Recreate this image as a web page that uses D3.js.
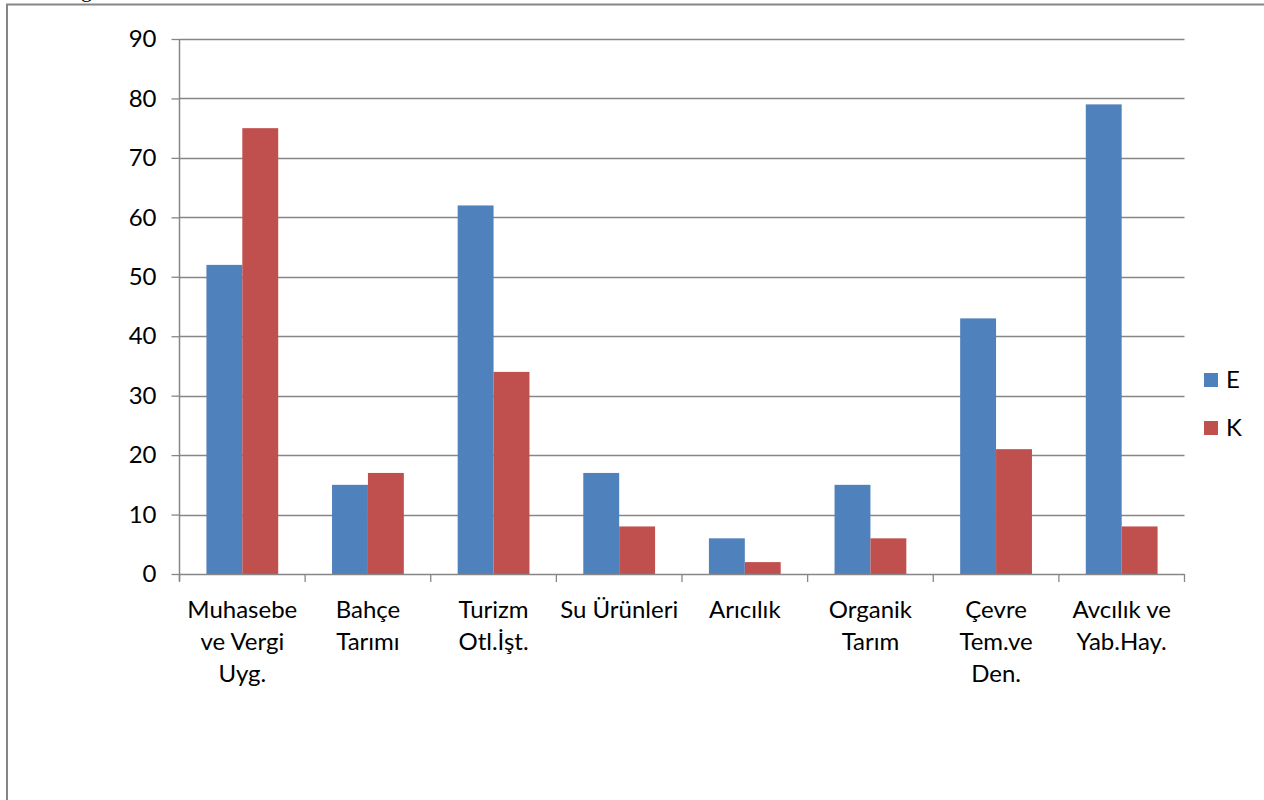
<!DOCTYPE html>
<html><head><meta charset="utf-8">
<script src="https://cdn.jsdelivr.net/npm/d3@7"></script>
<style>
html,body{margin:0;padding:0;background:#fff;}
svg text{font-family:Lato,"Open Sans",sans-serif;fill:#000;}
</style></head>
<body>
<svg id="chart" width="1264" height="800"></svg>
<script>
const categories = [
  ["Muhasebe","ve Vergi","Uyg."],
  ["Bahçe","Tarımı"],
  ["Turizm","Otl.İşt."],
  ["Su Ürünleri"],
  ["Arıcılık"],
  ["Organik","Tarım"],
  ["Çevre","Tem.ve","Den."],
  ["Avcılık ve","Yab.Hay."]
];
const seriesNames = ["E","K"];
const valuesE = [52,15,62,17,6,15,43,79];
const valuesK = [75,17,34,8,2,6,21,8];
const yTicks = [0,10,20,30,40,50,60,70,80,90];
const colors = ["#4F81BD","#C0504D"];

const svg = d3.select("#chart");
const pLeft = 179.5, pRight = 1184.5, pTop = 39, pBottom = 574;
const fs = 24;

// outer frame
svg.append("path").attr("d","M7,800 V4.5 H1264").attr("fill","none").attr("stroke","#868686").attr("stroke-width",2);
// cut-off caption descender
svg.append("text").attr("x",81).attr("y",-3.5).style("font-family","'Liberation Serif',serif").attr("font-size",22).text("g");

const idx = d3.range(categories.length);
const x = d3.scaleBand().domain(idx).range([pLeft,pRight]).paddingInner(0).paddingOuter(0);
const y = d3.scaleLinear().domain([0,90]).range([pBottom,pTop]);

// gridlines
svg.append("g").selectAll("line").data(yTicks.filter(d=>d>0)).join("line")
  .attr("x1",pLeft).attr("x2",pRight).attr("y1",d=>Math.round(y(d))+0.5).attr("y2",d=>Math.round(y(d))+0.5)
  .attr("stroke","#868686").attr("stroke-width",1.3);

// y axis
const yAxis = d3.axisLeft(y).tickValues(yTicks).tickSize(8).tickPadding(15);
const gy = svg.append("g").attr("transform",`translate(${pLeft},0)`).call(yAxis);
gy.select(".domain").remove();
gy.selectAll(".tick line").attr("stroke","#868686").attr("stroke-width",1.3);
gy.selectAll(".tick text").attr("font-size",fs).style("font-family","Lato,sans-serif").attr("fill","#000");
svg.append("line").attr("x1",pLeft).attr("x2",pLeft).attr("y1",pTop).attr("y2",pBottom+7).attr("stroke","#868686").attr("stroke-width",1.5);

// bars
const sub = d3.scaleBand().domain([0,1]).range([0,x.bandwidth()]).paddingInner(0).paddingOuter(0.75);
const data = [];
idx.forEach(i=>{ data.push({i,s:0,v:valuesE[i]}); data.push({i,s:1,v:valuesK[i]}); });
svg.append("g").selectAll("rect").data(data).join("rect")
  .attr("x",d=>x(d.i)+sub(d.s)).attr("width",sub.bandwidth())
  .attr("y",d=>y(d.v)).attr("height",d=>y(0)-y(d.v))
  .attr("fill",d=>colors[d.s]);

// x axis
svg.append("line").attr("x1",pLeft).attr("x2",pRight).attr("y1",pBottom+0.5).attr("y2",pBottom+0.5).attr("stroke","#868686").attr("stroke-width",1.5);
const xticks = idx.map(i=>x(i)).concat([pRight]);
svg.append("g").selectAll("line").data(xticks).join("line")
  .attr("x1",d=>d).attr("x2",d=>d).attr("y1",pBottom).attr("y2",pBottom+8)
  .attr("stroke","#868686").attr("stroke-width",1.3);

const labels = svg.append("g").selectAll("text").data(idx).join("text")
  .attr("x",i=>x(i)+x.bandwidth()/2).attr("y",618).attr("text-anchor","middle").attr("font-size",fs);
labels.each(function(i){
  const t = d3.select(this);
  categories[i].forEach((line,k)=>{
    t.append("tspan").attr("x",x(i)+x.bandwidth()/2).attr("dy",k===0?0:32).text(line);
  });
});

// legend
const leg = svg.append("g").selectAll("g").data(seriesNames).join("g")
  .attr("transform",(d,k)=>`translate(1204,${373+k*48})`);
leg.append("rect").attr("width",14).attr("height",14).attr("fill",(d,k)=>colors[k]);
leg.append("text").attr("x",22).attr("y",15).attr("font-size",fs).text(d=>d);
</script>
</body></html>
